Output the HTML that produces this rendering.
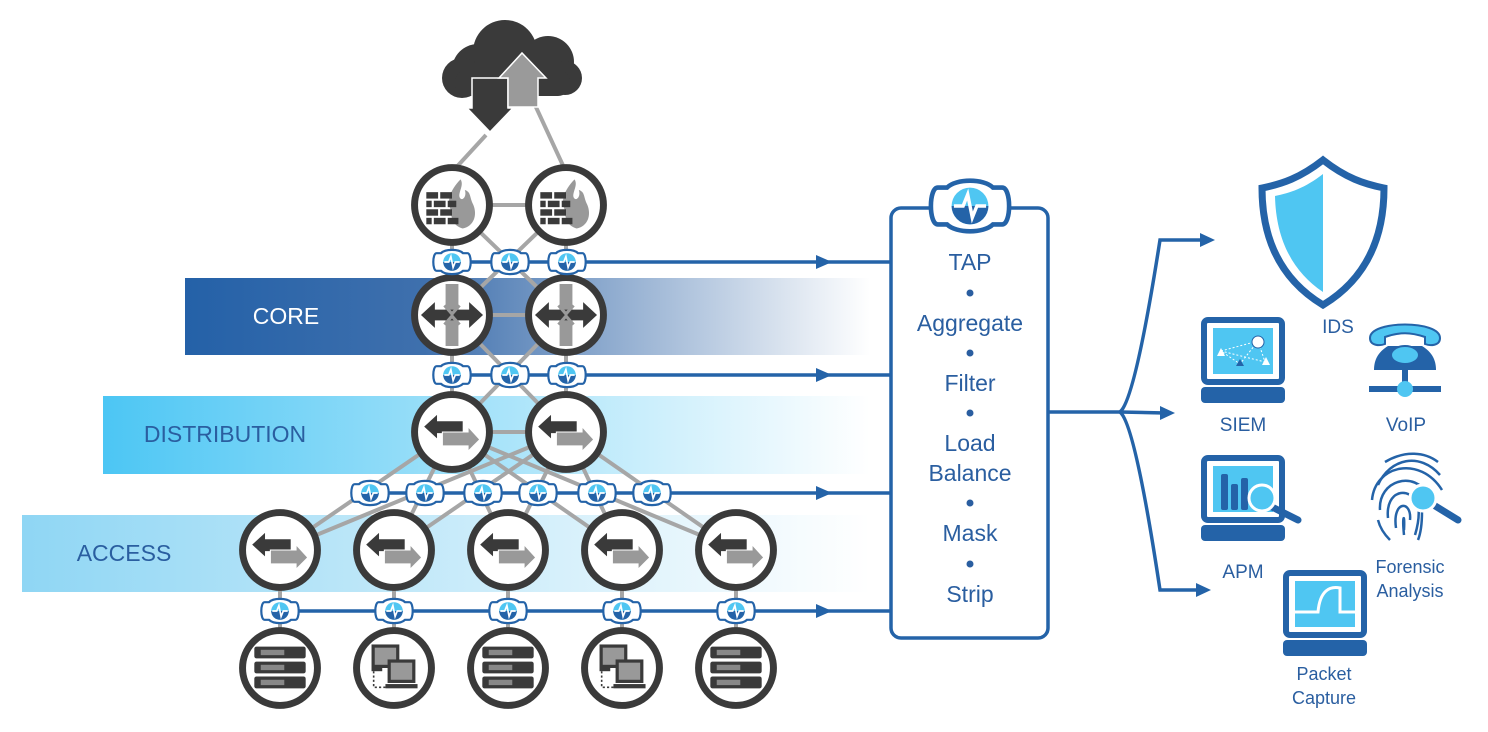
<!DOCTYPE html>
<html><head><meta charset="utf-8"><style>
html,body{margin:0;padding:0;background:#fff;overflow:hidden;}
svg{display:block;}
text{font-family:"Liberation Sans",sans-serif;}
</style></head><body>
<svg width="1488" height="732" viewBox="0 0 1488 732" xmlns="http://www.w3.org/2000/svg">
<defs>
<linearGradient id="gCore" x1="0" x2="1" y1="0" y2="0"><stop offset="0" stop-color="#2461a8"/><stop offset="0.35" stop-color="#3f70ad"/><stop offset="1" stop-color="#3f70ad" stop-opacity="0"/></linearGradient>
<linearGradient id="gDist" x1="0" x2="1" y1="0" y2="0"><stop offset="0" stop-color="#4cc6f4"/><stop offset="1" stop-color="#4cc6f4" stop-opacity="0"/></linearGradient>
<linearGradient id="gAcc" x1="0" x2="1" y1="0" y2="0"><stop offset="0" stop-color="#8fd6f4"/><stop offset="1" stop-color="#8fd6f4" stop-opacity="0"/></linearGradient>
<g id="tap">
<path d="M-10,-8 C-6,-12 6,-12 10,-8 L14,-8 C18,-8 18,8 14,8 L10,8 C6,12 -6,12 -10,8 L-14,8 C-18,8 -18,-8 -14,-8 Z" fill="#fff" stroke="#2463a8" stroke-width="2"/>
<circle r="8" fill="#4fc6f2"/>
<path d="M-8,0 A8,8 0 0 0 8,0 Z" fill="#2463a8"/>
<path d="M-7,0 L-3,0 L-1,-5 L1,5 L3,0 L7,0" fill="none" stroke="#fff" stroke-width="1.5"/>
</g>
<g id="sw">
<circle r="35" fill="#fff" stroke="#3a3a3a" stroke-width="6.5"/>
<path d="M-26,-5 L-14,-16 L-14,-10 L10,-10 L10,1 L-14,1 L-14,6 Z" fill="#3a3a3a"/>
<path d="M26,7 L15,-5 L15,0 L-9,0 L-9,13 L15,13 L15,18 Z" fill="#999" stroke="#fff" stroke-width="1"/>
</g>
<g id="core">
<circle r="35" fill="#fff" stroke="#3a3a3a" stroke-width="6.5"/>
<path d="M-6,-29 L6,-29 L6,29 L-6,29 Z" fill="#999"/>
<path d="M-29,0 L-16,-12 L-16,-5 L16,-5 L16,-12 L29,0 L16,12 L16,5 L-16,5 L-16,12 Z" fill="#3a3a3a"/>
<path d="M-7,-9 L0,-1 L7,-9 M-7,9 L0,1 L7,9" fill="none" stroke="#999" stroke-width="3"/>
</g>
<g id="fw">
<circle r="35" fill="#fff" stroke="#3a3a3a" stroke-width="6.5"/>
<path d="M8,-24 C-2,-14 -6,-2 0,6 C-2,12 2,20 10,22 C20,20 24,10 20,0 C16,-8 18,-12 12,-14 C14,-8 10,-4 8,-6 C4,-10 12,-18 8,-24 Z" fill="#999"/>
<g fill="#3a3a3a"><rect x="-24" y="-12" width="11" height="6"/><rect x="-11" y="-12" width="11" height="6"/><rect x="-24" y="-4" width="5" height="6"/><rect x="-17" y="-4" width="11" height="6"/><rect x="-4" y="-4" width="8" height="6"/><rect x="-24" y="4" width="11" height="6"/><rect x="-11" y="4" width="11" height="6"/><rect x="-24" y="12" width="5" height="6"/><rect x="-17" y="12" width="11" height="6"/><rect x="-4" y="12" width="10" height="6"/></g>
</g>
<g id="srv">
<circle r="35" fill="#fff" stroke="#3a3a3a" stroke-width="6.5"/>
<g fill="#3a3a3a"><rect x="-24" y="-20" width="48" height="11" rx="2"/><rect x="-24" y="-6" width="48" height="11" rx="2"/><rect x="-24" y="8" width="48" height="11" rx="2"/></g>
<g fill="#888"><rect x="-18" y="-17" width="22" height="5"/><rect x="-18" y="-3" width="22" height="5"/><rect x="-18" y="11" width="22" height="5"/></g>
</g>
<g id="pc">
<circle r="35" fill="#fff" stroke="#3a3a3a" stroke-width="6.5"/>
<rect x="-21" y="-22" width="26" height="22" fill="#3a3a3a"/><rect x="-18" y="-19" width="20" height="16" fill="#999"/>
<rect x="-21" y="0" width="10" height="3" fill="#3a3a3a"/>
<rect x="-6" y="-8" width="26" height="22" fill="#3a3a3a"/><rect x="-3" y="-5" width="20" height="16" fill="#999"/>
<rect x="-8" y="15" width="30" height="4" fill="#3a3a3a"/>
<path d="M-19,3 L-19,18 L-8,18" fill="none" stroke="#3a3a3a" stroke-width="1.5" stroke-dasharray="2,2"/>
</g>
<g id="mon">
<rect x="3" y="3" width="78" height="62" rx="4" fill="#fff" stroke="#2463a8" stroke-width="6"/>
<rect x="12" y="11" width="60" height="46" fill="#4fc6f2"/>
<rect x="0" y="70" width="84" height="16" rx="4" fill="#2463a8"/>
</g>
</defs>

<rect x="185" y="278" width="685" height="77" fill="url(#gCore)"/>
<rect x="103" y="396" width="767" height="78" fill="url(#gDist)"/>
<rect x="22" y="515" width="848" height="77" fill="url(#gAcc)"/>
<text x="286" y="324" font-size="23" fill="#fff" text-anchor="middle">CORE</text>
<text x="225" y="442" font-size="23" fill="#2a5ea0" text-anchor="middle">DISTRIBUTION</text>
<text x="124" y="561" font-size="23" fill="#2a5ea0" text-anchor="middle">ACCESS</text>

<g stroke="#a6a6a6" stroke-width="4" fill="none">
<line x1="486" y1="135" x2="452" y2="172"/><line x1="535" y1="105" x2="566" y2="172"/>
<line x1="452" y1="205" x2="566" y2="205"/>
<line x1="452" y1="205" x2="452" y2="315"/><line x1="566" y1="205" x2="566" y2="315"/>
<line x1="452" y1="205" x2="566" y2="315"/><line x1="566" y1="205" x2="452" y2="315"/>
<line x1="452" y1="315" x2="566" y2="315"/>
<line x1="452" y1="315" x2="452" y2="432"/><line x1="566" y1="315" x2="566" y2="432"/>
<line x1="452" y1="315" x2="566" y2="432"/><line x1="566" y1="315" x2="452" y2="432"/>
<line x1="452" y1="432" x2="566" y2="432"/>
<line x1="452" y1="432" x2="280" y2="550"/><line x1="452" y1="432" x2="394" y2="550"/><line x1="452" y1="432" x2="508" y2="550"/><line x1="452" y1="432" x2="622" y2="550"/><line x1="452" y1="432" x2="736" y2="550"/>
<line x1="566" y1="432" x2="280" y2="550"/><line x1="566" y1="432" x2="394" y2="550"/><line x1="566" y1="432" x2="508" y2="550"/><line x1="566" y1="432" x2="622" y2="550"/><line x1="566" y1="432" x2="736" y2="550"/>
<line x1="280" y1="550" x2="280" y2="668"/><line x1="394" y1="550" x2="394" y2="668"/><line x1="508" y1="550" x2="508" y2="668"/><line x1="622" y1="550" x2="622" y2="668"/><line x1="736" y1="550" x2="736" y2="668"/>
</g>

<g fill="#3a3a3a">
<circle cx="478" cy="70" r="26"/><circle cx="505" cy="52" r="32"/><circle cx="548" cy="62" r="26"/><circle cx="462" cy="78" r="20"/><circle cx="565" cy="78" r="17"/>
<rect x="455" y="70" width="115" height="26" rx="12"/>
</g>
<path d="M472,78 L508,78 L508,108 L513,108 L490,132 L467,108 L472,108 Z" fill="#3a3a3a" stroke="#fff" stroke-width="1.5"/>
<path d="M508,107 L508,78 L499,78 L522,53 L546,78 L538,78 L538,107 Z" fill="#9a9a9a" stroke="#fff" stroke-width="1.5"/>

<use href="#fw" transform="translate(452,205) scale(1.07)"/><use href="#fw" transform="translate(566,205) scale(1.07)"/>
<use href="#core" transform="translate(452,315) scale(1.07)"/><use href="#core" transform="translate(566,315) scale(1.07)"/>
<use href="#sw" transform="translate(452,432) scale(1.07)"/><use href="#sw" transform="translate(566,432) scale(1.07)"/>
<use href="#sw" transform="translate(280,550) scale(1.07)"/><use href="#sw" transform="translate(394,550) scale(1.07)"/><use href="#sw" transform="translate(508,550) scale(1.07)"/><use href="#sw" transform="translate(622,550) scale(1.07)"/><use href="#sw" transform="translate(736,550) scale(1.07)"/>
<use href="#srv" transform="translate(280,668) scale(1.07)"/><use href="#pc" transform="translate(394,668) scale(1.07)"/><use href="#srv" transform="translate(508,668) scale(1.07)"/><use href="#pc" transform="translate(622,668) scale(1.07)"/><use href="#srv" transform="translate(736,668) scale(1.07)"/>

<g stroke="#2463a8" stroke-width="3.5" fill="none">
<line x1="440" y1="262" x2="890" y2="262"/><line x1="440" y1="375" x2="890" y2="375"/>
<line x1="360" y1="493" x2="890" y2="493"/><line x1="268" y1="611" x2="890" y2="611"/>
</g>
<g fill="#2463a8">
<path d="M816,255 L832,262 L816,269 Z"/><path d="M816,368 L832,375 L816,382 Z"/><path d="M816,486 L832,493 L816,500 Z"/><path d="M816,604 L832,611 L816,618 Z"/>
</g>
<g>
<use href="#tap" transform="translate(452,262) scale(1.1)"/><use href="#tap" transform="translate(510,262) scale(1.1)"/><use href="#tap" transform="translate(567,262) scale(1.1)"/>
<use href="#tap" transform="translate(452,375) scale(1.1)"/><use href="#tap" transform="translate(510,375) scale(1.1)"/><use href="#tap" transform="translate(567,375) scale(1.1)"/>
<use href="#tap" transform="translate(370,493) scale(1.1)"/><use href="#tap" transform="translate(425,493) scale(1.1)"/><use href="#tap" transform="translate(483,493) scale(1.1)"/><use href="#tap" transform="translate(538,493) scale(1.1)"/><use href="#tap" transform="translate(597,493) scale(1.1)"/><use href="#tap" transform="translate(652,493) scale(1.1)"/>
<use href="#tap" transform="translate(280,611) scale(1.1)"/><use href="#tap" transform="translate(394,611) scale(1.1)"/><use href="#tap" transform="translate(508,611) scale(1.1)"/><use href="#tap" transform="translate(622,611) scale(1.1)"/><use href="#tap" transform="translate(736,611) scale(1.1)"/>
</g>

<rect x="891" y="208" width="157" height="430" rx="10" fill="#fff" stroke="#2463a8" stroke-width="3.5"/>
<use href="#tap" transform="translate(970,206) scale(2.3)"/>
<g font-size="23" fill="#2a5ea0" text-anchor="middle">
<text x="970" y="270">TAP</text>
<text x="970" y="331">Aggregate</text>
<text x="970" y="391">Filter</text>
<text x="970" y="451">Load</text>
<text x="970" y="481">Balance</text>
<text x="970" y="541">Mask</text>
<text x="970" y="602">Strip</text>
</g>
<g fill="#2a5ea0"><circle cx="970" cy="293" r="3.5"/><circle cx="970" cy="353" r="3.5"/><circle cx="970" cy="413" r="3.5"/><circle cx="970" cy="503" r="3.5"/><circle cx="970" cy="564" r="3.5"/></g>

<g stroke="#2463a8" stroke-width="3.5" fill="none">
<line x1="1048" y1="412" x2="1120" y2="412"/>
<path d="M1120,412 Q1135,400 1160,240 L1205,240"/>
<line x1="1120" y1="412" x2="1165" y2="413"/>
<path d="M1120,412 Q1135,424 1160,590 L1200,590"/>
</g>
<g fill="#2463a8">
<path d="M1200,233 L1215,240 L1200,247 Z"/><path d="M1160,406 L1175,413 L1160,420 Z"/><path d="M1196,583 L1211,590 L1196,597 Z"/>
</g>

<path d="M1323,160 C1300,178 1282,184 1262,188 C1262,245 1285,282 1323,305 C1361,282 1384,245 1384,188 C1364,184 1346,178 1323,160 Z" fill="#fff" stroke="#2463a8" stroke-width="7"/>
<path d="M1323,174 C1305,188 1290,193 1275,196 C1276,240 1293,272 1323,292 Z" fill="#4fc6f2"/>
<text x="1338" y="333" font-size="19" fill="#2a5ea0" text-anchor="middle">IDS</text>

<use href="#mon" transform="translate(1201,317)"/>
<g stroke="#fff" stroke-width="1" stroke-dasharray="2,2" fill="none"><path d="M1221,351 L1258,341 L1265,362 L1221,351 L1240,364 L1258,341"/></g>
<circle cx="1258" cy="342" r="6" fill="#fff" stroke="#2463a8"/>
<g fill="#fff"><path d="M1217,356 L1221,348 L1225,356 Z"/><path d="M1262,365 L1266,357 L1270,365 Z"/></g>
<path d="M1236,366 L1240,359 L1244,366 Z" fill="#2463a8"/>
<text x="1243" y="431" font-size="19" fill="#2a5ea0" text-anchor="middle">SIEM</text>

<path d="M1370,338 C1370,320 1440,320 1440,338 C1440,346 1430,346 1425,344 L1425,337 C1410,332 1400,332 1385,337 L1385,344 C1380,346 1370,346 1370,338 Z" fill="#4fc6f2" stroke="#2463a8" stroke-width="2"/>
<path d="M1388,346 L1422,346 C1432,352 1436,360 1436,370 L1374,370 C1374,360 1378,352 1388,346 Z" fill="#2463a8"/>
<ellipse cx="1405" cy="355" rx="14" ry="9" fill="#4fc6f2" stroke="#2463a8" stroke-width="2"/>
<rect x="1402" y="370" width="6" height="16" fill="#2463a8"/>
<rect x="1369" y="386" width="72" height="6" fill="#2463a8"/>
<circle cx="1405" cy="389" r="8" fill="#4fc6f2"/>
<text x="1406" y="431" font-size="19" fill="#2a5ea0" text-anchor="middle">VoIP</text>

<use href="#mon" transform="translate(1201,455)"/>
<g fill="#2463a8"><rect x="1221" y="474" width="7" height="36" rx="2"/><rect x="1231" y="484" width="7" height="26" rx="2"/><rect x="1241" y="478" width="7" height="32" rx="2"/></g>
<line x1="1268" y1="505" x2="1298" y2="520" stroke="#2463a8" stroke-width="7" stroke-linecap="round"/>
<circle cx="1262" cy="498" r="13" fill="#4fc6f2" stroke="#fff" stroke-width="3"/>
<text x="1243" y="578" font-size="19" fill="#2a5ea0" text-anchor="middle">APM</text>

<g fill="none" stroke="#2463a8" stroke-width="2.5">
<path d="M1378,485 C1390,458 1420,452 1440,475"/>
<path d="M1372,500 C1375,465 1420,455 1442,490"/>
<path d="M1380,510 C1378,480 1415,470 1428,495"/>
<path d="M1388,518 C1385,490 1410,485 1418,505 C1420,515 1418,525 1415,535"/>
<path d="M1396,528 C1392,500 1412,500 1410,520"/>
<path d="M1404,535 C1402,515 1405,512 1404,530"/>
<path d="M1385,462 C1405,450 1425,452 1438,462"/>
<path d="M1378,520 C1380,528 1385,535 1390,540"/>
<path d="M1422,512 C1422,525 1420,535 1418,540"/>
</g>
<line x1="1432" y1="504" x2="1458" y2="520" stroke="#2463a8" stroke-width="7" stroke-linecap="round"/>
<circle cx="1423" cy="498" r="13" fill="#4fc6f2" stroke="#fff" stroke-width="3"/>
<text x="1410" y="573" font-size="18" fill="#2a5ea0" text-anchor="middle">Forensic</text>
<text x="1410" y="597" font-size="18" fill="#2a5ea0" text-anchor="middle">Analysis</text>

<use href="#mon" transform="translate(1283,570)"/>
<path d="M1295,612 L1318,612 C1320,590 1330,586 1340,588 L1340,612 L1355,612" fill="none" stroke="#fff" stroke-width="3"/>
<text x="1324" y="680" font-size="18" fill="#2a5ea0" text-anchor="middle">Packet</text>
<text x="1324" y="704" font-size="18" fill="#2a5ea0" text-anchor="middle">Capture</text>
</svg>
</body></html>
